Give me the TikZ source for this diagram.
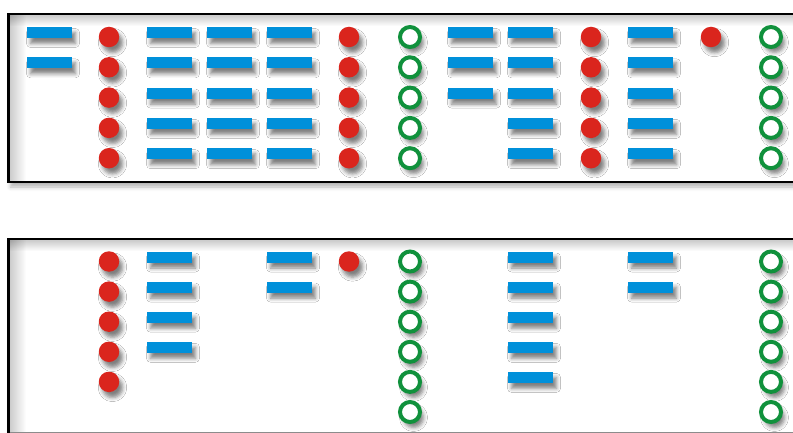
\documentclass[tikz,border=0pt]{standalone}
\usetikzlibrary{shadows.blur,fadings}
\definecolor{barblue}{RGB}{0,144,218}
\definecolor{dotred}{RGB}{218,37,29}
\definecolor{ringgreen}{RGB}{16,145,60}
\tikzfading[name=fadeR, left color=transparent!0, right color=transparent!100]
\tikzfading[name=fadeD, top color=transparent!0, bottom color=transparent!100]
\tikzset{
  shd/.style={blur shadow={shadow xshift=3.5pt, shadow yshift=-5.5pt, shadow blur radius=4pt, shadow opacity=50}},
  bar/.style={rectangle, fill=barblue, minimum width=45pt, minimum height=11pt, inner sep=0pt, shd},
  reddot/.style={circle, fill=dotred, minimum size=20.5pt, inner sep=0pt, shd},
  ring/.style={circle, draw=ringgreen, line width=4pt, fill=white, minimum size=20pt, inner sep=0pt, shd},
  panel/.style={draw=black, line width=2.7pt, fill=white, blur shadow={shadow xshift=2pt, shadow yshift=-5pt, shadow blur radius=4pt, shadow opacity=30}},
  innershade/.style={fill=black, opacity=0.2}
}
\begin{document}
\begin{tikzpicture}[x=1pt, y=-1pt]
\useasboundingbox (0,0) rectangle (793,433);
\clip (0,0) rectangle (793,433);
% panels
\path[panel] (8.5,14) rectangle (840,182);
\path[panel] (8.5,239) rectangle (840,433.6);
\draw[black!45, line width=1pt] (9.9,432.3) -- (793,432.3);
\begin{scope}
  \clip (9.9,15.4) rectangle (840,180.6);
  \fill[innershade, path fading=fadeR] (9.9,15.4) rectangle (26,180.6);
  \fill[innershade, path fading=fadeD] (9.9,15.4) rectangle (840,26);
\end{scope}
\begin{scope}
  \clip (9.9,240.4) rectangle (840,431.8);
  \fill[innershade, path fading=fadeR] (9.9,240.4) rectangle (26,431.8);
  \fill[innershade, path fading=fadeD] (9.9,240.4) rectangle (840,251);
\end{scope}
% ---------- top panel ----------
\foreach \r in {0,1} \node[bar] (tA\r) at (49.5,{32.5+30.3*\r}) {};
\foreach \r in {0,...,4} \node[reddot] (tR1\r) at (109,{37+30.3*\r}) {};
\foreach \r in {0,...,4} \node[bar] (tB\r) at (169.5,{32.5+30.3*\r}) {};
\foreach \r in {0,...,4} \node[bar] (tC\r) at (229.5,{32.5+30.3*\r}) {};
\foreach \r in {0,...,4} \node[bar] (tD\r) at (289.5,{32.5+30.3*\r}) {};
\foreach \r in {0,...,4} \node[reddot] (tR2\r) at (349,{37+30.3*\r}) {};
\foreach \r in {0,...,4} \node[ring] (tG1\r) at (410,{37+30.3*\r}) {};
\foreach \r in {0,1,2} \node[bar] (tE\r) at (470.5,{32.5+30.3*\r}) {};
\foreach \r in {0,...,4} \node[bar] (tF\r) at (530.5,{32.5+30.3*\r}) {};
\foreach \r in {0,...,4} \node[reddot] (tR3\r) at (591,{37+30.3*\r}) {};
\foreach \r in {0,...,4} \node[bar] (tH\r) at (650.5,{32.5+30.3*\r}) {};
\node[reddot] (tR40) at (711,37) {};
\foreach \r in {0,...,4} \node[ring] (tG2\r) at (771,{37+30.3*\r}) {};
% ---------- bottom panel ----------
\foreach \r in {0,...,4} \node[reddot] (bR1\r) at (109,{261.5+30.1*\r}) {};
\foreach \r in {0,...,3} \node[bar] (bB\r) at (169.5,{257+30.1*\r}) {};
\foreach \r in {0,1} \node[bar] (bD\r) at (289.5,{257+30.1*\r}) {};
\node[reddot] (bR20) at (349,261.5) {};
\foreach \r in {0,...,5} \node[ring] (bG1\r) at (410,{261.5+30.1*\r}) {};
\foreach \r in {0,...,4} \node[bar] (bF\r) at (530.5,{257+30.1*\r}) {};
\foreach \r in {0,1} \node[bar] (bH\r) at (650.5,{257+30.1*\r}) {};
\foreach \r in {0,...,5} \node[ring] (bG2\r) at (771,{261.5+30.1*\r}) {};
\end{tikzpicture}
\end{document}
